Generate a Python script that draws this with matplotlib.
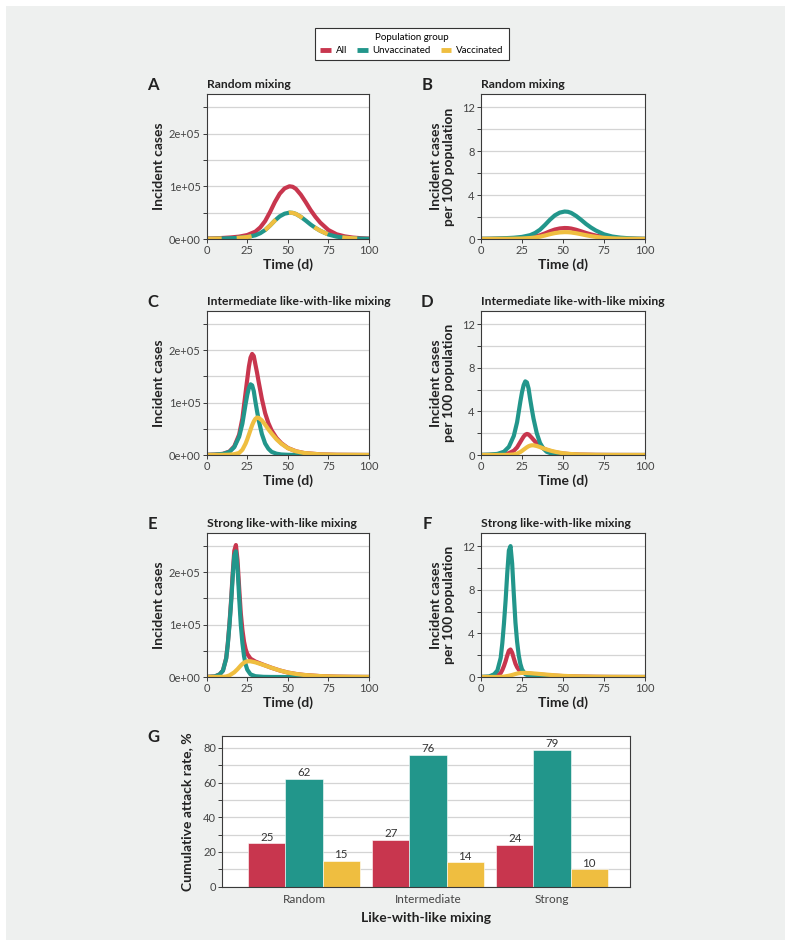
import matplotlib.pyplot as plt
from matplotlib.patches import Rectangle
from matplotlib.lines import Line2D

plt.rcParams['font.family'] = ['Lato', 'DejaVu Sans']

# ---- data (cases in thousands, rates per 100 population) ----
groups = ['All', 'Unvaccinated', 'Vaccinated']
time_ticks = [0, 25, 50, 75, 100]
count_tick_labels = ['0e+00', '1e+05', '2e+05']

# A / B : random mixing
t_random = [0, 5, 10, 15, 20, 25, 30, 33, 36, 39, 42, 45, 48, 51, 53, 55, 58, 61, 64, 67, 70, 75, 80, 85, 90, 95, 100]
all_random_k = [0.8, 1.2, 2, 3, 4.5, 7.5, 14, 22, 34, 51, 70, 86, 96, 100, 99, 95, 84, 70, 55, 42, 31, 17, 9, 5, 2.7, 1.5, 0.8]
unv_random_k = [0.4, 0.6, 1, 1.5, 2.3, 3.8, 7, 11, 17, 25.5, 35, 43, 48, 50, 49.5, 47.5, 42, 35, 27.5, 21, 15.5, 8.5, 4.5, 2.5, 1.35, 0.75, 0.4]
vac_random_k = [0.4, 0.6, 1, 1.5, 2.2, 3.7, 7, 11, 17, 25.5, 35, 43, 48, 50, 49.5, 47.5, 42, 35, 27.5, 21, 15.5, 8.5, 4.5, 2.5, 1.35, 0.75, 0.4]
all_random_rate = [0.008, 0.012, 0.02, 0.03, 0.045, 0.075, 0.14, 0.22, 0.34, 0.51, 0.70, 0.86, 0.96, 1.0, 0.99, 0.95, 0.84, 0.70, 0.55, 0.42, 0.31, 0.17, 0.09, 0.05, 0.027, 0.015, 0.008]
unv_random_rate = [0.02, 0.03, 0.05, 0.075, 0.115, 0.19, 0.35, 0.55, 0.85, 1.28, 1.75, 2.15, 2.4, 2.5, 2.475, 2.375, 2.1, 1.75, 1.375, 1.05, 0.775, 0.425, 0.225, 0.125, 0.0675, 0.0375, 0.02]
vac_random_rate = [0.005, 0.0075, 0.0125, 0.019, 0.028, 0.046, 0.088, 0.138, 0.213, 0.319, 0.4375, 0.5375, 0.6, 0.625, 0.619, 0.594, 0.525, 0.4375, 0.344, 0.2625, 0.194, 0.106, 0.056, 0.031, 0.017, 0.009, 0.005]

# C / D : intermediate like-with-like mixing
t_inter = [0, 5, 10, 14, 17, 20, 22, 24, 25, 26, 27, 28, 29, 30, 31, 32, 34, 36, 38, 40, 43, 46, 50, 55, 60, 70, 80, 100]
all_inter_k = [0.3, 0.85, 2.2, 6.6, 16.5, 39, 70, 120, 145, 169, 186, 193, 189, 173, 157.5, 140, 107, 80, 61, 47, 32.5, 22.5, 13.4, 7.1, 3.8, 1.2, 0.4, 0.05]
unv_inter_k = [0.3, 0.8, 2, 6, 15, 35, 60, 98, 115, 128, 135, 133, 122, 102, 84, 67, 40, 22, 12, 6, 2.5, 1, 0.4, 0.1, 0, 0, 0, 0]
vac_inter_k = [0, 0.05, 0.2, 0.6, 1.5, 4, 10, 22, 30, 39, 48, 57, 64, 69, 71.5, 71, 66, 58, 49, 41, 30, 21.5, 13, 7, 3.8, 1.2, 0.4, 0.05]
all_inter_rate = [0.003, 0.0085, 0.022, 0.066, 0.165, 0.39, 0.7, 1.2, 1.45, 1.69, 1.86, 1.93, 1.89, 1.73, 1.575, 1.4, 1.07, 0.8, 0.61, 0.47, 0.325, 0.225, 0.134, 0.071, 0.038, 0.012, 0.004, 0.0005]
unv_inter_rate = [0.015, 0.04, 0.1, 0.3, 0.75, 1.75, 3.0, 4.9, 5.75, 6.4, 6.75, 6.65, 6.1, 5.1, 4.2, 3.35, 2.0, 1.1, 0.6, 0.3, 0.125, 0.05, 0.02, 0.005, 0, 0, 0, 0]
vac_inter_rate = [0, 0.0006, 0.0025, 0.0075, 0.019, 0.05, 0.125, 0.275, 0.375, 0.49, 0.6, 0.71, 0.8, 0.86, 0.89, 0.89, 0.825, 0.725, 0.61, 0.51, 0.375, 0.27, 0.16, 0.0875, 0.0475, 0.015, 0.005, 0.0006]

# E / F : strong like-with-like mixing
t_strong = [0, 5, 8, 10, 12, 13, 14, 15, 16, 17, 18, 19, 20, 21, 22, 23, 24, 25, 27, 30, 35, 40, 45, 50, 55, 60, 70, 80, 90, 100]
all_strong_k = [0.2, 1.05, 5.15, 12.3, 36, 64, 101, 145, 197, 241, 252, 223, 170.5, 122, 90, 67.5, 53, 44, 35, 29.5, 23.3, 17.55, 12.5, 8.5, 5.8, 3.9, 1.7, 0.7, 0.3, 0.1]
unv_strong_k = [0.2, 1, 5, 12, 35, 62, 98, 140, 190, 232, 240, 208, 152, 100, 65, 40, 24, 14, 5, 1.5, 0.3, 0.05, 0, 0, 0, 0, 0, 0, 0, 0]
vac_strong_k = [0, 0.05, 0.15, 0.3, 1, 2, 3, 5, 7, 9, 12, 15, 18.5, 22, 25, 27.5, 29, 30, 30, 28, 23, 17.5, 12.5, 8.5, 5.8, 3.9, 1.7, 0.7, 0.3, 0.1]
all_strong_rate = [0.002, 0.0105, 0.0515, 0.123, 0.36, 0.64, 1.01, 1.45, 1.97, 2.41, 2.52, 2.23, 1.705, 1.22, 0.9, 0.675, 0.53, 0.44, 0.35, 0.295, 0.233, 0.1755, 0.125, 0.085, 0.058, 0.039, 0.017, 0.007, 0.003, 0.001]
unv_strong_rate = [0.01, 0.05, 0.25, 0.6, 1.75, 3.1, 4.9, 7, 9.5, 11.6, 12.0, 10.4, 7.6, 5, 3.25, 2, 1.2, 0.7, 0.25, 0.075, 0.015, 0.0025, 0, 0, 0, 0, 0, 0, 0, 0]
vac_strong_rate = [0, 0.0006, 0.0019, 0.0038, 0.0125, 0.025, 0.0375, 0.0625, 0.0875, 0.1125, 0.15, 0.1875, 0.23, 0.275, 0.3125, 0.344, 0.3625, 0.375, 0.375, 0.35, 0.2875, 0.22, 0.156, 0.106, 0.0725, 0.049, 0.021, 0.009, 0.004, 0.001]

# G : cumulative attack rate, %
mixing = ['Random', 'Intermediate', 'Strong']
attack_all = [25, 27, 24]
attack_unv = [62, 76, 79]
attack_vac = [15, 14, 10]

# ---- style ----
RED = '#c8364e'
TEAL = '#22968b'
YEL = '#efbe40'
BG = '#eef0ef'
W, H = 791, 946

fig = plt.figure(figsize=(W / 100, H / 100), dpi=100)
fig.patch.set_facecolor('white')
fig.patches.append(Rectangle((6 / W, 6 / H), (785 - 6) / W, (940 - 6) / H,
                             transform=fig.transFigure, facecolor=BG,
                             edgecolor='none', zorder=-10))


def axes_at(x0, y0, x1, y1):
    return fig.add_axes([x0 / W, 1 - y1 / H, (x1 - x0) / W, (y1 - y0) / H])


def style(ax, ymax, major, minor, labels):
    ax.set_facecolor('white')
    ax.set_ylim(0, ymax)
    ax.set_yticks(major)
    ax.set_yticklabels(labels)
    ax.set_yticks(minor, minor=True)
    ax.grid(axis='y', which='both', color='#d4d4d4', lw=0.9)
    ax.set_axisbelow(True)
    for s in ax.spines.values():
        s.set_color('#3a3a3a')
        s.set_linewidth(0.8)
    ax.tick_params(which='both', length=3, width=0.7, color='#3a3a3a',
                   labelsize=8, labelcolor='#444444', pad=1.5)
    ax.tick_params(axis='x', which='minor', bottom=False)


def time_panel(ax, letter, title, ylabel, t, all_y, unv_y, vac_y, kind, dashed=False):
    if kind == 'count':
        style(ax, 275, [0, 100, 200], [50, 150, 250], count_tick_labels)
        ax.yaxis.set_label_coords(-48 / 162, 0.5)
    else:
        style(ax, 13.2, [0, 4, 8, 12], [2, 6, 10], ['0', '4', '8', '12'])
        ax.yaxis.set_label_coords(-38 / 164, 0.5)
    ax.set_xlim(0, 100)
    ax.set_xticks(time_ticks)
    ax.plot(t, all_y, color=RED, lw=3, solid_capstyle='round', solid_joinstyle='round')
    ax.plot(t, unv_y, color=TEAL, lw=3, solid_capstyle='round', solid_joinstyle='round')
    if dashed:
        ax.plot(t, vac_y, color=YEL, lw=3, dashes=(3.6, 3.6), dash_capstyle='butt')
    else:
        ax.plot(t, vac_y, color=YEL, lw=3, solid_capstyle='round', solid_joinstyle='round')
    ax.set_xlabel('Time (d)', fontsize=10, fontweight='bold', color='#222222')
    ax.xaxis.label.set_va('center')
    ax.xaxis.set_label_coords(0.5, -0.18)
    ax.set_ylabel(ylabel, fontsize=10, fontweight='bold', color='#222222', linespacing=1.1)
    ax.yaxis.label.set_va('center')
    ax.annotate(title, xy=(0, 1), xycoords='axes fraction', xytext=(0, 6.5),
                textcoords='offset points', fontsize=8.7, fontweight='bold',
                color='#222222', va='center', ha='left')
    ax.annotate(letter, xy=(0, 1), xycoords='axes fraction', xytext=(-39, 6.5),
                textcoords='offset points', fontsize=12, fontweight='bold',
                color='#222222', va='center', ha='center')


rate_label = 'Incident cases\nper 100 population'
rows = [(94, 239), (311, 455), (533, 677)]

axA = axes_at(206.7, rows[0][0], 369, rows[0][1])
time_panel(axA, 'A', 'Random mixing', 'Incident cases', t_random,
           all_random_k, unv_random_k, vac_random_k, 'count', dashed=True)
axB = axes_at(481, rows[0][0], 645, rows[0][1])
time_panel(axB, 'B', 'Random mixing', rate_label, t_random,
           all_random_rate, unv_random_rate, vac_random_rate, 'rate')

axC = axes_at(206.7, rows[1][0], 369, rows[1][1])
time_panel(axC, 'C', 'Intermediate like-with-like mixing', 'Incident cases', t_inter,
           all_inter_k, unv_inter_k, vac_inter_k, 'count')
axD = axes_at(481, rows[1][0], 645, rows[1][1])
time_panel(axD, 'D', 'Intermediate like-with-like mixing', rate_label, t_inter,
           all_inter_rate, unv_inter_rate, vac_inter_rate, 'rate')

axE = axes_at(206.7, rows[2][0], 369, rows[2][1])
time_panel(axE, 'E', 'Strong like-with-like mixing', 'Incident cases', t_strong,
           all_strong_k, unv_strong_k, vac_strong_k, 'count')
axF = axes_at(481, rows[2][0], 645, rows[2][1])
time_panel(axF, 'F', 'Strong like-with-like mixing', rate_label, t_strong,
           all_strong_rate, unv_strong_rate, vac_strong_rate, 'rate')

# ---- panel G ----
axG = axes_at(222.3, 735.7, 630, 886.7)
style(axG, 87, [0, 20, 40, 60, 80], [10, 30, 50, 70], ['0', '20', '40', '60', '80'])
pos = [1, 2, 3]
bw = 0.3
for off, vals, col in [(-bw, attack_all, RED), (0, attack_unv, TEAL), (bw, attack_vac, YEL)]:
    bars = axG.bar([p + off for p in pos], vals, width=bw, color=col,
                   edgecolor='white', linewidth=0.4)
    axG.bar_label(bars, fontsize=8.3, color='#333333', padding=0.5)
axG.set_xlim(0.34, 3.63)
axG.set_xticks(pos)
axG.set_xticklabels(mixing)
axG.tick_params(axis='x', labelsize=8.5, length=0, pad=5)
axG.set_xlabel('Like-with-like mixing', fontsize=10, fontweight='bold', color='#222222')
axG.xaxis.label.set_va('center')
axG.xaxis.set_label_coords(0.5, -0.207)
axG.set_ylabel('Cumulative attack rate, %', fontsize=10, fontweight='bold', color='#222222')
axG.yaxis.label.set_va('center')
axG.yaxis.set_label_coords(-35 / 407.7, 0.5)
fig.text(153 / W, 1 - 737 / H, 'G', fontsize=12, fontweight='bold',
         color='#222222', ha='center', va='center')

# ---- legend ----
handles = [Line2D([0], [0], color=c, lw=3.5, solid_capstyle='butt') for c in (RED, TEAL, YEL)]
leg = fig.legend(handles, groups, title='Population group', ncol=3, loc='center',
                 bbox_to_anchor=(412 / W, 1 - 44 / H), fontsize=7, title_fontsize=7,
                 handlelength=1.1, handletextpad=0.5, columnspacing=1.0,
                 borderpad=0.5, fancybox=False, framealpha=1, edgecolor='#333333')
leg.get_frame().set_linewidth(0.8)

fig.savefig('out.png', dpi=100, facecolor=fig.get_facecolor())
